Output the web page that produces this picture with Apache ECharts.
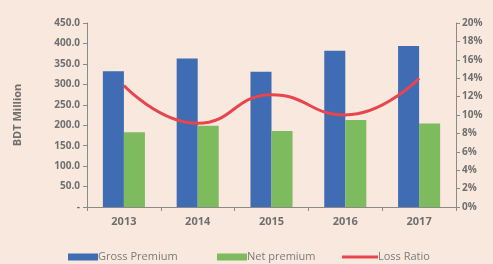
<!DOCTYPE html>
<html><head><meta charset="utf-8">
<script src="https://cdn.jsdelivr.net/npm/echarts@6/dist/echarts.min.js"></script>
<style>html,body{margin:0;padding:0;background:#f8e8de;}#c{width:493px;height:264px;}</style>
</head><body><div id="c"></div>
<script>
const years = ['2013','2014','2015','2016','2017'];
const grossPremium = [332, 363, 331, 382, 394];
const netPremium = [183, 199, 186, 213, 204];
const lossRatio = [13.2, 9.1, 12.2, 10.0, 14.0];
const chart = echarts.init(document.getElementById('c'));
const txt = {color:'#6f6f6f', fontFamily:'Open Sans', fontWeight:'bold'};
const legTxt = {color:'#7a7a7a', fontFamily:'Open Sans', fontSize:11, lineHeight:12, padding:[0,0,0,-5]};
chart.setOption({
  backgroundColor:'#f8e8de',
  animation:false,
  grid:{left:87,right:37,top:23,bottom:57},
  legend:[
    {left:63,top:246,itemWidth:30,itemHeight:7,itemGap:0,icon:'rect',data:['Gross Premium'],textStyle:legTxt},
    {left:212,top:246,itemWidth:30,itemHeight:7,itemGap:0,icon:'rect',data:['Net premium'],textStyle:legTxt},
    {left:337,top:246,itemWidth:36,itemHeight:3,itemGap:0,icon:'rect',data:['Loss Ratio'],textStyle:legTxt}
  ],
  xAxis:{type:'category',data:years,
    axisLine:{lineStyle:{color:'#8a8a8a'}},
    axisTick:{show:true,length:4,lineStyle:{color:'#8a8a8a'}},
    axisLabel:Object.assign({},txt,{fontSize:11,margin:9})},
  yAxis:[
    {type:'value',min:0,max:450,interval:50,name:'BDT Million',nameLocation:'middle',nameGap:64,
     nameTextStyle:Object.assign({},txt,{fontSize:11}),
     axisLine:{show:true,lineStyle:{color:'#8a8a8a'}},
     axisTick:{show:true,length:4,lineStyle:{color:'#8a8a8a'}},
     splitLine:{show:false},
     axisLabel:Object.assign({},txt,{fontSize:10,margin:7,formatter:v=>v===0?'-':v.toFixed(1)})},
    {type:'value',min:0,max:20,interval:2,
     axisLine:{show:true,lineStyle:{color:'#8a8a8a'}},
     axisTick:{show:true,length:4,lineStyle:{color:'#8a8a8a'}},
     splitLine:{show:false},
     axisLabel:Object.assign({},txt,{fontSize:10,margin:6,formatter:'{value}%'})}
  ],
  series:[
    {name:'Gross Premium',type:'bar',data:grossPremium,barGap:'0%',barCategoryGap:'43%',itemStyle:{color:'#3f6cb3'}},
    {name:'Net premium',type:'bar',data:netPremium,itemStyle:{color:'#7dbb5e'}},
    {name:'Loss Ratio',type:'line',yAxisIndex:1,data:lossRatio,smooth:true,showSymbol:false,
     lineStyle:{color:'#e8454d',width:3},itemStyle:{color:'#e8454d'}}
  ]
});
</script></body></html>
